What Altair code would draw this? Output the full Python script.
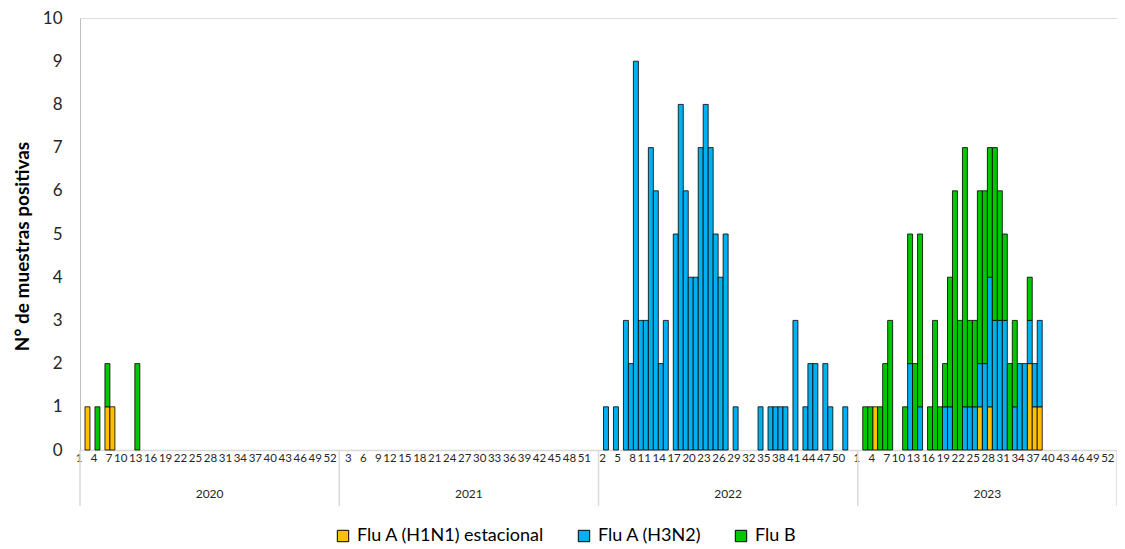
import altair as alt
import pandas as pd

years = [2020, 2021, 2022, 2023]
weeks_per_year = 52
series = ["Flu A (H1N1) estacional", "Flu A (H3N2)", "Flu B"]
colors = ["#FFC000", "#00B0F0", "#00C800"]

# (year, epidemiological week, positive samples)
h1n1 = [
    (2020, 2, 1), (2020, 6, 1), (2020, 7, 1),
    (2023, 4, 1), (2023, 25, 1), (2023, 27, 1), (2023, 35, 2), (2023, 36, 1), (2023, 37, 1),
]
h3n2 = [
    (2022, 2, 1), (2022, 4, 1), (2022, 6, 3), (2022, 7, 2), (2022, 8, 9), (2022, 9, 3),
    (2022, 10, 3), (2022, 11, 7), (2022, 12, 6), (2022, 13, 2), (2022, 14, 3),
    (2022, 16, 5), (2022, 17, 8), (2022, 18, 6), (2022, 19, 4), (2022, 20, 4),
    (2022, 21, 7), (2022, 22, 8), (2022, 23, 7), (2022, 24, 5), (2022, 25, 4),
    (2022, 26, 5), (2022, 28, 1), (2022, 33, 1), (2022, 35, 1), (2022, 36, 1),
    (2022, 37, 1), (2022, 38, 1), (2022, 40, 3), (2022, 42, 1), (2022, 43, 2),
    (2022, 44, 2), (2022, 46, 2), (2022, 47, 1), (2022, 50, 1),
    (2023, 11, 2), (2023, 13, 1), (2023, 18, 1), (2023, 19, 1), (2023, 22, 1),
    (2023, 23, 1), (2023, 24, 1), (2023, 25, 1), (2023, 26, 2), (2023, 27, 3),
    (2023, 28, 3), (2023, 29, 3), (2023, 30, 3), (2023, 32, 1), (2023, 33, 2),
    (2023, 34, 2), (2023, 35, 1), (2023, 36, 1), (2023, 37, 2),
]
flu_b = [
    (2020, 4, 1), (2020, 6, 1), (2020, 12, 2),
    (2023, 2, 1), (2023, 3, 1), (2023, 5, 1), (2023, 6, 2), (2023, 7, 3),
    (2023, 10, 1), (2023, 11, 3), (2023, 12, 2), (2023, 13, 4), (2023, 15, 1),
    (2023, 16, 3), (2023, 17, 1), (2023, 18, 1), (2023, 19, 3), (2023, 20, 6),
    (2023, 21, 3), (2023, 22, 6), (2023, 23, 2), (2023, 24, 2), (2023, 25, 4),
    (2023, 26, 4), (2023, 27, 3), (2023, 28, 4), (2023, 29, 3), (2023, 30, 2),
    (2023, 31, 2), (2023, 32, 2), (2023, 35, 1),
]

rows = []
for ord_i, (name, data) in enumerate(zip(series, [h1n1, h3n2, flu_b])):
    for y, w, c in data:
        rows.append({"idx": (y - years[0]) * weeks_per_year + w - 1,
                     "series": name, "count": c, "ord": ord_i})
df = pd.DataFrame(rows)

n_idx = len(years) * weeks_per_year
W, H = 1037, 432
font = "Lato"

x_scale = alt.Scale(domain=list(range(n_idx)), paddingInner=0, paddingOuter=0)

bars = alt.Chart(df).mark_bar(stroke="black", strokeWidth=0.8).encode(
    x=alt.X("idx:O", scale=x_scale, axis=alt.Axis(
        title=None,
        labelExpr="datum.value % 3 == 0 ? '' + (datum.value % 52 + 1) : ''",
        labelAngle=0, ticks=False, labelFontSize=11.5, labelFont=font,
        labelColor="#262626", labelPadding=8, domainColor="#d9d9d9",
        domainWidth=1.5, labelOverlap=False, labelFlush=False, labelBound=False,
    )),
    y=alt.Y("count:Q", stack="zero", scale=alt.Scale(domain=[0, 10], nice=False),
            axis=alt.Axis(
                title="N° de muestras positivas", values=list(range(11)),
                ticks=False, grid=False, labelFontSize=17, labelFont=font,
                labelColor="#262626", labelPadding=18, domainColor="#bfbfbf",
                titleFont=font, titleFontSize=19, titleFontWeight="bold",
                titleColor="#000000", titleX=-58, titleY=H / 2 + 12,
                titleAlign="center", titleBaseline="middle",
            )),
    color=alt.Color("series:N", scale=alt.Scale(domain=series, range=colors),
                    legend=alt.Legend(
                        title=None, orient="none", legendX=254, legendY=509,
                        direction="horizontal", symbolType="square",
                        symbolSize=130, symbolStrokeColor="black",
                        symbolStrokeWidth=1, symbolOpacity=1,
                        labelFontSize=18, labelFont=font, labelColor="#000000",
                        labelLimit=0, columnPadding=30, labelOffset=5,
                    )),
    order=alt.Order("ord:Q", sort="ascending"),
)

year_df = pd.DataFrame({"idx": [i * weeks_per_year + weeks_per_year // 2 for i in range(len(years))],
                        "label": [str(y) for y in years]})
years_text = alt.Chart(year_df).mark_text(
    fontSize=12, font=font, color="#262626", baseline="middle"
).encode(
    x=alt.X("idx:O", bandPosition=0, scale=x_scale),
    y=alt.value(476),
    text="label:N",
)

sep_df = pd.DataFrame({"idx": [i * weeks_per_year for i in range(len(years))]})
seps = alt.Chart(sep_df).mark_rule(color="#d9d9d9", strokeWidth=1.5).encode(
    x=alt.X("idx:O", bandPosition=0, scale=x_scale),
    y=alt.value(H),
    y2=alt.value(H + 56),
)
end_df = pd.DataFrame({"idx": [n_idx]})
end_rule = alt.Chart(end_df).mark_rule(color="#d9d9d9", strokeWidth=1.5).encode(
    x=alt.value(W), y=alt.value(H), y2=alt.value(H + 56),
)

chart = alt.layer(seps, end_rule, bars, years_text).properties(
    width=W, height=H,
    autosize=alt.AutoSizeParams(type="none"),
    padding={"left": 72, "top": 10, "right": 0, "bottom": 98},
).configure_view(stroke=None).configure(font=font)

chart.save("out.html", embed_options={"renderer": "svg", "actions": False})
